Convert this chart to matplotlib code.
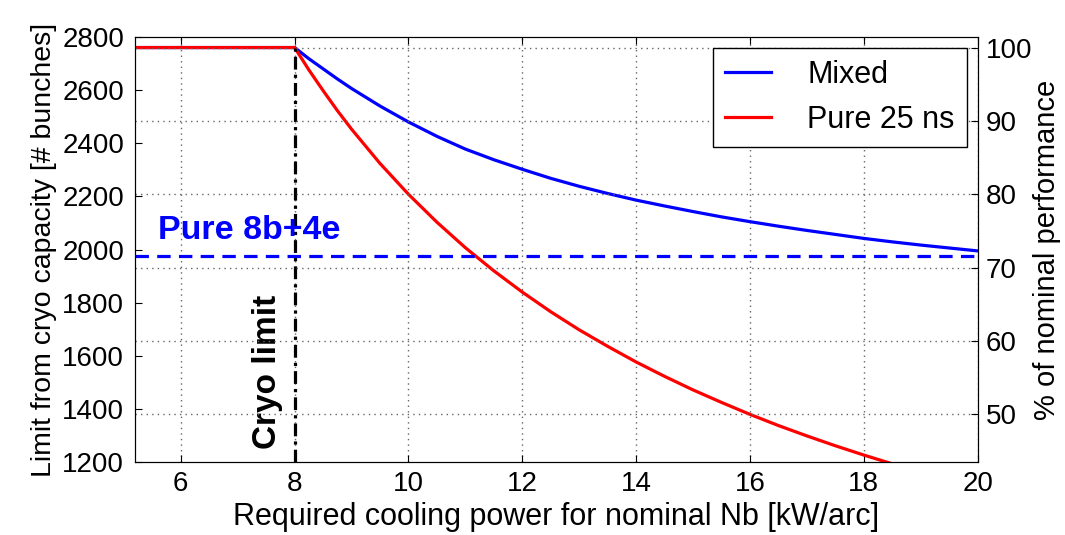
import matplotlib
matplotlib.use("Agg")
import matplotlib.pyplot as plt
import numpy as np

plt.rcParams['font.family'] = ['Liberation Sans', 'DejaVu Sans']
plt.rcParams['font.size'] = 20

# nominal number of bunches (100 %)
n_nominal = 2760
cryo_limit = 8.0
pure_8b4e = 1975

# values (kW/arc -> bunches)
power = [5.2, 8.0, 8.25, 8.5, 8.75, 9.0, 9.5, 10.0, 10.5, 11.0, 11.5, 12.0,
         12.5, 13.0, 13.5, 14.0, 14.5, 15.0, 15.5, 16.0, 16.5, 17.0, 17.5,
         18.0, 18.5, 19.0, 19.5, 20.0]
mixed = [2760, 2760, 2718, 2680, 2642, 2606, 2540, 2480, 2426, 2378, 2338,
         2302, 2268, 2238, 2211, 2186, 2164, 2143, 2123, 2105, 2088, 2072,
         2057, 2042, 2029, 2017, 2006, 1995]
pure_25ns = [2760, 2760, 2676, 2598, 2523, 2453, 2324, 2208, 2103, 2007, 1920,
             1840, 1766, 1698, 1636, 1577, 1523, 1472, 1425, 1380, 1338, 1299,
             1262, 1227, 1194, 1162, 1132, 1104]

x_ticks = [6, 8, 10, 12, 14, 16, 18, 20]
y_ticks = [1200, 1400, 1600, 1800, 2000, 2200, 2400, 2600, 2800]
pct_ticks = [50, 60, 70, 80, 90, 100]

fig = plt.figure(figsize=(10.65, 5.35), dpi=100)
ax1 = fig.add_axes([0.127, 0.136, 0.791, 0.795])
ax2 = ax1.twinx()

ax1.plot(power, mixed, color='#0000ff', lw=2.3, label='Mixed')
ax1.plot(power, pure_25ns, color='#ff0000', lw=2.3, label='Pure 25 ns')
ax1.axhline(pure_8b4e, color='#0000ff', lw=2.3, linestyle=(0, (4.2, 2.6)))
ax1.plot([cryo_limit, cryo_limit], [1200, n_nominal], color='k', lw=2.3,
         linestyle=(0, (4.0, 1.6, 1.0, 1.6)))

ax1.text(5.6, 2040, 'Pure 8b+4e', color='#0000ff', fontsize=24.5,
         fontweight='bold', ha='left', va='baseline')
ax1.text(7.53, 1540, 'Cryo limit', color='k', fontsize=24, fontweight='bold',
         rotation=90, ha='center', va='center')

ax1.set_xlim(5.2, 20)
ax1.set_ylim(1200, 2800)
ax1.set_xticks(x_ticks)
ax1.set_yticks(y_ticks)
ax2.set_ylim(1200 / n_nominal * 100, 2800 / n_nominal * 100)
ax2.set_yticks(pct_ticks)

ax1.tick_params(direction='in', length=5, top=True, right=False, pad=8)
ax1.tick_params(axis='x', pad=6)
ax2.tick_params(direction='in', length=5, pad=6)

ax1.grid(axis='x', color='0.4', linestyle=(0, (1, 3)), lw=1.0)
ax2.grid(axis='y', color='0.4', linestyle=(0, (1, 3)), lw=1.0)

ax1.set_xlabel('Required cooling power for nominal Nb [kW/arc]', fontsize=22,
               labelpad=4)
ax1.set_ylabel('Limit from cryo capacity [# bunches]', fontsize=20.5,
               labelpad=4)
ax2.set_ylabel('% of nominal performance', fontsize=21, labelpad=0)

h, l = ax1.get_legend_handles_labels()
leg = ax2.legend(h, l, loc='upper right', fancybox=False, framealpha=1,
                 edgecolor='k', borderaxespad=0.35, handlelength=1.5,
                 handletextpad=1.2, fontsize=22)
leg.get_frame().set_linewidth(1.0)

fig.savefig('out.png', dpi=100)
